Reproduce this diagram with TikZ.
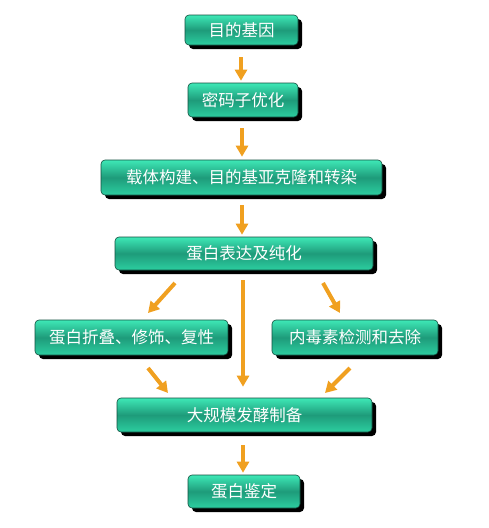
\documentclass[tikz,border=0pt]{standalone}
\usepackage{fontspec}
\newfontfamily\cjk{Noto Sans CJK SC}
\usepackage{tikz}
\usetikzlibrary{arrows.meta, shadows, calc}
\definecolor{boxtop}{RGB}{62,232,182}
\definecolor{boxmid}{RGB}{30,155,122}
\definecolor{boxbot}{RGB}{44,206,160}
\definecolor{boxedge}{RGB}{18,78,62}
\definecolor{myorange}{RGB}{240,160,32}
\tikzset{
  stepbox/.style={rectangle, draw=boxedge, top color=boxtop, bottom color=boxbot,
    middle color=boxmid, text=white, align=center, rounded corners=4pt,
    line width=0.6pt, font=\cjk\fontsize{16.5}{19}\selectfont,
    drop shadow={shadow xshift=4pt, shadow yshift=-4pt, fill=black, opacity=1}},
  arrow/.style={-{Triangle[width=12pt,length=11pt]}, line width=4pt, color=myorange}
}
\begin{document}
\begin{tikzpicture}[x=1pt, y=-1pt]
  \useasboundingbox (0,0) rectangle (489,528);

  % main column
  \node[stepbox, minimum width=113pt, minimum height=30pt] (gene) at (241.5,30) {目的基因};
  \node[stepbox, minimum width=110pt, minimum height=34pt] (codon) at (243,100) {密码子优化};
  \node[stepbox, minimum width=281pt, minimum height=35pt] (vector) at (241.5,177.5) {载体构建、目的基亚克隆和转染};
  \node[stepbox, minimum width=258pt, minimum height=33pt] (express) at (244,253.5) {蛋白表达及纯化};

  % side boxes
  \node[stepbox, minimum width=193pt, minimum height=35pt] (fold) at (131.5,337.5) {蛋白折叠、修饰、复性};
  \node[stepbox, minimum width=166pt, minimum height=35pt] (toxin) at (355,337.5) {内毒素检测和去除};

  \node[stepbox, minimum width=255pt, minimum height=34pt] (ferment) at (244.5,415) {大规模发酵制备};
  \node[stepbox, minimum width=112pt, minimum height=33pt] (ident) at (244,491.5) {蛋白鉴定};

  % arrow ends for the slanted arrows
  \coordinate (ls) at (175,283);
  \coordinate (le) at (148,313);
  \coordinate (rs) at (323,283);
  \coordinate (re) at (340,313);
  \coordinate (fs) at (148,368);
  \coordinate (fe) at (168,393);
  \coordinate (ts) at (350,368);
  \coordinate (te) at (325,393);

  % Arrows
  \draw[arrow, shorten <=12pt, shorten >=2pt] (gene.south -| 241,0) -- (codon.north -| 241,0);
  \draw[arrow, shorten <=11pt, shorten >=3pt] (codon.south -| 242,0) -- (vector.north -| 242,0);
  \draw[arrow, shorten <=10pt, shorten >=2pt] (vector.south -| 242,0) -- (express.north -| 242,0);
  \draw[arrow, shorten <=10pt, shorten >=11pt] (express.south -| 243,0) -- (ferment.north -| 243,0);
  \draw[arrow] (ls) -- (le);
  \draw[arrow] (rs) -- (re);
  \draw[arrow] (fs) -- (fe);
  \draw[arrow] (ts) -- (te);
  \draw[arrow, shorten <=13pt, shorten >=2pt] (ferment.south -| 243,0) -- (ident.north -| 243,0);
\end{tikzpicture}
\end{document}
